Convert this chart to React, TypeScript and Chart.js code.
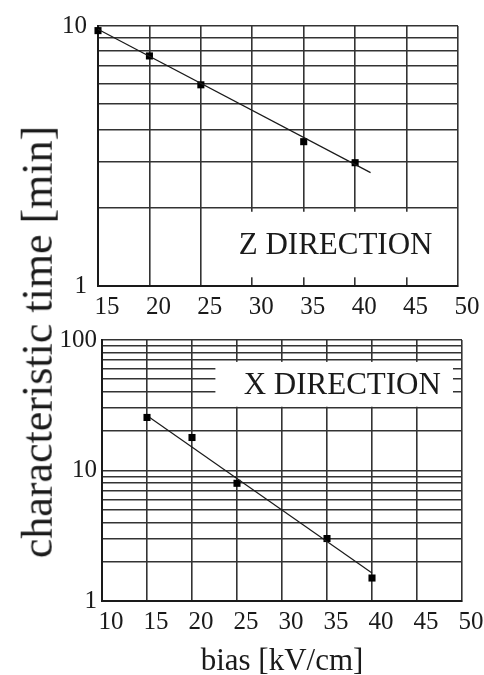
import React, { useEffect, useRef } from "react";
import { Chart, registerables } from "chart.js";

Chart.register(...registerables);

// ---- data ----
const zBias = [15, 20, 25, 35, 40];
const zTime = [9.6, 7.67, 5.94, 3.59, 2.98];
const zFitBias = [15, 41.5];
const zFitTime = [9.72, 2.73];

const xBias = [15, 20, 25, 35, 40];
const xTime = [25.5, 17.9, 7.98, 3.01, 1.5];
const xFitBias = [15.3, 40];
const xFitTime = [25.5, 1.64];

const zXTicks = { min: 15, max: 50, step: 5 };
const xXTicks = { min: 10, max: 50, step: 5 };
const zYTicks = [1, 2, 3, 4, 5, 6, 7, 8, 9, 10];
const xYTicks = [1, 2, 3, 4, 5, 6, 7, 8, 9, 10, 20, 30, 40, 50, 60, 70, 80, 90, 100];

const yTitle = "characteristic time [min]";
const xTitle = "bias [kV/cm]";
const zLabel = "Z DIRECTION";
const xLabel = "X DIRECTION";

const FONT = "'Times New Roman', Times, serif";
const INK = "#1a1a1a";
const GRID = "#333333";

const labelBoxPlugin = {
  id: "labelBox",
  beforeDatasetsDraw(chart: any, _args: any, opts: any) {
    if (!opts || !opts.text) return;
    const { ctx, scales } = chart;
    const xs = scales.x;
    const ys = scales.y;
    const x1 = xs.getPixelForValue(opts.box[0]);
    const x2 = xs.getPixelForValue(opts.box[1]);
    const y1 = ys.getPixelForValue(opts.box[2]);
    const y2 = ys.getPixelForValue(opts.box[3]);
    ctx.save();
    ctx.fillStyle = "#ffffff";
    ctx.fillRect(Math.min(x1, x2), Math.min(y1, y2), Math.abs(x2 - x1), Math.abs(y2 - y1));
    ctx.fillStyle = INK;
    ctx.font = `${opts.size}px ${FONT}`;
    ctx.textAlign = "center";
    ctx.textBaseline = "middle";
    ctx.fillText(opts.text, xs.getPixelForValue(opts.at[0]), ys.getPixelForValue(opts.at[1]));
    ctx.restore();
  },
};

function isPow10(v: number) {
  const l = Math.log10(v);
  return Math.abs(l - Math.round(l)) < 1e-9;
}

function makeConfig(p: {
  bias: number[];
  time: number[];
  fitX: number[];
  fitY: number[];
  xr: { min: number; max: number; step: number };
  yTicks: number[];
  yWidth: number;
  xHeight: number;
  padTop: number;
  padRight: number;
  yPad: number;
  title?: string;
  label: any;
}): any {
  return {
    type: "scatter",
    data: {
      datasets: [
        {
          data: p.fitX.map((x, i) => ({ x, y: p.fitY[i] })),
          showLine: true,
          borderColor: INK,
          borderWidth: 1.2,
          pointRadius: 0,
          clip: false,
        },
        {
          data: p.bias.map((x, i) => ({ x, y: p.time[i] })),
          showLine: false,
          pointStyle: "rect",
          pointRadius: 5,
          backgroundColor: "#000",
          borderColor: "#000",
          borderWidth: 0,
          clip: false,
        },
      ],
    },
    options: {
      responsive: false,
      animation: false,
      layout: { padding: { top: p.padTop, right: p.padRight, left: 0, bottom: 0 } },
      plugins: {
        legend: { display: false },
        tooltip: { enabled: false },
        labelBox: p.label,
      },
      scales: {
        x: {
          type: "linear",
          min: p.xr.min,
          max: p.xr.max,
          ticks: {
            stepSize: p.xr.step,
            color: INK,
            font: { family: FONT, size: 25 },
            padding: 6,
            labelOffset: 9,
            maxRotation: 0,
            autoSkip: false,
          },
          grid: { color: GRID, lineWidth: 1.6, drawTicks: false },
          border: { color: INK, width: 2 },
          title: p.title
            ? {
                display: true,
                text: p.title,
                color: INK,
                font: { family: FONT, size: 31 },
                padding: { top: 0, bottom: -5 },
              }
            : { display: false },
          afterFit: (s: any) => {
            s.height = p.xHeight;
          },
        },
        y: {
          type: "logarithmic",
          min: p.yTicks[0],
          max: p.yTicks[p.yTicks.length - 1],
          afterBuildTicks: (s: any) => {
            s.ticks = p.yTicks.map((v) => ({ value: v, major: isPow10(v) }));
          },
          ticks: {
            color: INK,
            font: { family: FONT, size: 25 },
            padding: p.yPad,
            autoSkip: false,
            callback: (v: any) => (isPow10(Number(v)) ? String(Number(v)) : ""),
          },
          grid: { color: GRID, lineWidth: 1.6, drawTicks: false },
          border: { color: INK, width: 2 },
          afterFit: (s: any) => {
            s.width = p.yWidth;
          },
        },
      },
    },
    plugins: [labelBoxPlugin],
  };
}

function ChartCanvas({ config, width, height, top }: { config: any; width: number; height: number; top: number }) {
  const ref = useRef<HTMLCanvasElement | null>(null);
  useEffect(() => {
    let chart: Chart | null = null;
    let cancelled = false;
    const make = () => {
      if (cancelled || !ref.current) return;
      chart = new Chart(ref.current, config);
    };
    const fonts: any = (document as any).fonts;
    if (fonts && fonts.load) {
      Promise.all([
        fonts.load("25px 'Times New Roman'"),
        fonts.load("31px 'Times New Roman'"),
      ])
        .catch(() => null)
        .then(make);
    } else {
      make();
    }
    return () => {
      cancelled = true;
      if (chart) chart.destroy();
    };
  }, []);
  return (
    <canvas
      ref={ref}
      width={width}
      height={height}
      style={{ position: "absolute", left: 0, top, width, height }}
    />
  );
}

export default function App() {
  const zConfig = makeConfig({
    bias: zBias,
    time: zTime,
    fitX: zFitBias,
    fitY: zFitTime,
    xr: zXTicks,
    yTicks: zYTicks,
    yWidth: 98,
    xHeight: 39,
    padTop: 20,
    padRight: 26,
    yPad: 11,
    label: { text: zLabel, size: 31, box: [28.2, 48.6, 1.08, 1.93], at: [38.1, 1.43] },
  });
  const xConfig = makeConfig({
    bias: xBias,
    time: xTime,
    fitX: xFitBias,
    fitY: xFitTime,
    xr: xXTicks,
    yTicks: xYTicks,
    yWidth: 102,
    xHeight: 74,
    padTop: 15,
    padRight: 22,
    yPad: 5,
    title: xTitle,
    label: { text: xLabel, size: 31, box: [22.6, 49.0, 30.8, 68], at: [36.7, 44.4] },
  });
  return (
    <div style={{ position: "absolute", left: 0, top: 0, width: 484, height: 675, background: "#fff", overflow: "hidden" }}>
      <ChartCanvas config={zConfig} width={484} height={325} top={0} />
      <ChartCanvas config={xConfig} width={484} height={355} top={320} />
      <div
        style={{
          position: "absolute",
          left: 38,
          top: 342,
          transform: "translate(-50%, -50%) rotate(-90deg)",
          fontFamily: FONT,
          fontSize: 44,
          color: INK,
          whiteSpace: "nowrap",
          lineHeight: 1.15,
        }}
      >
        {yTitle}
      </div>
    </div>
  );
}
